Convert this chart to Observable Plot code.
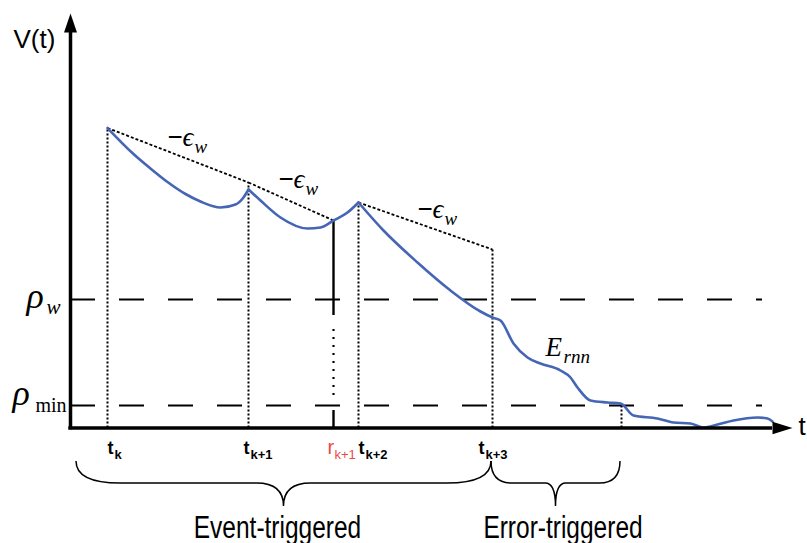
<!DOCTYPE html>
<html>
<head>
<meta charset="utf-8">
<script src="https://cdn.jsdelivr.net/npm/d3@7"></script>
<script src="https://cdn.jsdelivr.net/npm/@observablehq/plot@0.6"></script>
<style>
  html, body { margin: 0; padding: 0; background: #fff; }
  #chart svg { display: block; }
</style>
</head>
<body>
<div id="chart"></div>
<script>
// ---------- data (time units on x, V units on y) ----------
const eventTimes  = [3.7, 17.8, 28.8, 42.2];          // t_k ... t_{k+3}
const eventSubs   = ["k", "k+1", "k+2", "k+3"];
const eventPeaks  = [30.0, 24.55, 22.55, 17.85];      // top of the dotted verticals
const resetTime   = 26.3;                             // r_{k+1}
const resetSub    = "k+1";
const resetLevel  = 20.75;
const errorTime   = 55.1;                             // error-triggered instant

const thresholdNames  = ["w", "min"];
const thresholdValues = [12.85, 2.25];                // rho_w, rho_min

// -epsilon_w budget lines
const budgetX1 = [3.7, 17.8, 28.8];
const budgetY1 = [30.0, 24.55, 22.55];
const budgetX2 = [17.8, 26.3, 42.2];
const budgetY2 = [24.55, 20.75, 17.85];

// V(t) trajectory, three pieces
const seg1T = [3.7, 6.3, 8.0, 9.7, 11.5, 13.0, 15.0, 16.5, 17.3, 17.8];
const seg1V = [30.0, 27.4, 25.95, 24.6, 23.4, 22.65, 22.05, 22.35, 23.05, 23.85];
const seg2T = [17.8, 19.0, 21.0, 23.7, 25.0, 26.3, 27.7, 28.8];
const seg2V = [23.85, 22.75, 21.05, 19.95, 20.05, 20.75, 21.55, 22.55];
const seg3T = [28.8, 31.3, 34.7, 38.0, 41.0, 42.2, 43.0, 44.3, 45.7, 47.0, 49.0, 50.0, 50.7, 52.0, 53.7, 55.0, 56.3, 58.7, 60.3, 62.0, 63.3, 64.7, 66.3, 68.7, 69.7, 70.2];
const seg3V = [22.55, 19.75, 16.55, 13.75, 11.65, 11.05, 10.75, 8.45, 7.05, 6.45, 5.75, 5.05, 4.05, 2.75, 2.55, 2.45, 1.25, 0.95, 0.55, 0.45, 0.05, 0.35, 0.75, 1.05, 0.95, 0.65];

// braces under the axis
const braceFrom   = [0.6, 42.1];
const braceTo     = [42.1, 55.0];
const braceLabels = ["Event-triggered", "Error-triggered"];

// ---------- derived tables ----------
const events = eventTimes.map((t, i) => ({t, top: eventPeaks[i], sub: eventSubs[i]}));
const budgets = budgetX1.map((x1, i) => ({x1, y1: budgetY1[i], x2: budgetX2[i], y2: budgetY2[i]}));
const curve = [
  ...seg1T.map((t, i) => ({t, v: seg1V[i], s: 1})),
  ...seg2T.map((t, i) => ({t, v: seg2V[i], s: 2})),
  ...seg3T.map((t, i) => ({t, v: seg3V[i], s: 3}))
];
const braces = braceFrom.map((a, i) => ({a, b: braceTo[i], label: braceLabels[i]}));
const [rhoW, rhoMin] = thresholdValues;

const SANS = "Liberation Sans, Arial, Helvetica, sans-serif";
const SERIF = "Liberation Serif, 'Times New Roman', DejaVu Serif, serif";
const BLUE = "#4565b5";
const RED = "#ef4848";

// arrowheads (tip at origin)
const arrowUp = {draw(ctx) { ctx.moveTo(0, 0); ctx.lineTo(6.5, 19); ctx.lineTo(-6.5, 19); ctx.closePath(); }};
const arrowRight = {draw(ctx) { ctx.moveTo(0, 0); ctx.lineTo(-20, 6.2); ctx.lineTo(-20, -6.2); ctx.closePath(); }};

const xAxisEnd = 70.2, yAxisEnd = 39.55;
const tickLabelShift = [0, -0.5, 0, -1.4];
const labelBase = -2.55;
const epsX = [9.7, 20.8, 34.7], epsY = [28.25, 24.05, 21.05];

// brace renderer (uses the plot's scales)
function braceMark(index, scales) {
  const {x, y} = scales;
  const g = d3.create("svg:g").attr("fill", "none").attr("stroke", "black").attr("stroke-width", 1.5);
  for (const d of braces) {
    const xa = x(d.a), xb = x(d.b), xm = (xa + xb) / 2;
    const yt = y(-3.35), ym = y(-5.55), yc = y(-7.85);
    const w = xb - xa;
    const r = Math.min(44, w * 0.16), r2 = Math.min(27, w * 0.08);
    const p = d3.path();
    p.moveTo(xa, yt);
    p.quadraticCurveTo(xa, ym, xa + r, ym);
    p.lineTo(xm - r2, ym);
    p.quadraticCurveTo(xm, ym, xm, yc);
    p.quadraticCurveTo(xm, ym, xm + r2, ym);
    p.lineTo(xb - r, ym);
    p.quadraticCurveTo(xb, ym, xb, yt);
    g.append("path").attr("d", p.toString());
  }
  return g.node();
}

const common = {textAnchor: "start", lineAnchor: "bottom"};

const chart = Plot.plot({
  width: 807,
  height: 543,
  margin: 0,
  style: {background: "#fff", overflow: "visible"},
  x: {domain: [-7, 73.7], axis: null},
  y: {domain: [-11.55, 42.75], axis: null},
  marks: [
    // thresholds
    Plot.ruleY(thresholdValues, {x1: 0, x2: 69.2, stroke: "black", strokeWidth: 2.2, strokeDasharray: "25,24"}),
    // event verticals
    Plot.ruleX(events, {x: "t", y1: 0, y2: "top", stroke: "black", strokeWidth: 2, strokeDasharray: "2,2"}),
    Plot.ruleX([errorTime], {y1: 0, y2: rhoMin, stroke: "black", strokeWidth: 2, strokeDasharray: "2,2"}),
    // r_{k+1}
    Plot.ruleX([resetTime], {y1: rhoW - 1.6, y2: resetLevel, stroke: "black", strokeWidth: 2.4}),
    Plot.ruleX([resetTime], {y1: rhoMin + 1.0, y2: rhoW - 2.4, stroke: "black", strokeWidth: 2.2, strokeDasharray: "2,6"}),
    Plot.ruleX([resetTime], {y1: 0, y2: rhoMin - 0.5, stroke: "black", strokeWidth: 2.4}),
    // -eps_w budgets
    Plot.link(budgets, {x1: "x1", y1: "y1", x2: "x2", y2: "y2", stroke: "black", strokeWidth: 1.8, strokeDasharray: "3,2"}),
    // trajectory
    Plot.line(curve, {x: "t", y: "v", z: "s", stroke: BLUE, strokeWidth: 2.6, curve: "monotone-x"}),
    // axes
    Plot.ruleX([0], {y1: -0.17, y2: yAxisEnd, stroke: "black", strokeWidth: 3.5}),
    Plot.ruleY([0], {x1: -0.17, x2: xAxisEnd, stroke: "black", strokeWidth: 3.5}),
    Plot.dot([0], {x: 0, y: 41.45, symbol: arrowUp, fill: "black", stroke: "none"}),
    Plot.dot([0], {x: 72.2, y: 0, symbol: arrowRight, fill: "black", stroke: "none"}),
    // axis names
    Plot.text(["V(t)"], {...common, x: -5.7, y: 38.05, text: d => d, fontFamily: SANS, fontSize: 26}),
    Plot.text(["t"], {...common, x: 72.8, y: -0.65, text: d => d, fontFamily: SANS, fontSize: 26}),
    // threshold labels
    Plot.text(thresholdValues, {...common, x: [-4.4, -5.8], y: [12.05, 2.35], text: () => "\u03C1", fontFamily: SERIF, fontStyle: "italic", fontSize: 36}),
    Plot.text([thresholdNames[0]], {...common, x: -2.4, y: 11.45, text: d => d, fontFamily: SERIF, fontStyle: "italic", fontSize: 21}),
    Plot.text([thresholdNames[1]], {...common, x: -3.5, y: 1.65, text: d => d, fontFamily: SERIF, fontSize: 20}),
    // -eps_w labels
    Plot.text(budgets, {...common, x: epsX, y: epsY, text: () => "\u2212", fontFamily: SERIF, fontWeight: "bold", fontSize: 27}),
    Plot.text(budgets, {...common, x: epsX, y: epsY, dx: 15, text: () => "\u03F5", fontFamily: SERIF, fontStyle: "italic", fontSize: 27}),
    Plot.text(budgets, {...common, x: epsX, y: epsY, dx: 27, dy: 7.5, text: () => "w", fontFamily: SERIF, fontStyle: "italic", fontSize: 19}),
    // E_rnn
    Plot.text(["E"], {...common, x: 47.5, y: 7.25, text: d => d, fontFamily: SERIF, fontStyle: "italic", fontSize: 27}),
    Plot.text(["rnn"], {...common, x: 47.5, y: 7.25, dx: 18, dy: 7, text: d => d, fontFamily: SERIF, fontStyle: "italic", fontSize: 19}),
    // tick labels
    Plot.text(events, {...common, x: (d, i) => d.t + tickLabelShift[i], y: labelBase, text: () => "t", fontFamily: SANS, fontWeight: "bold", fontSize: 18}),
    Plot.text(events, {...common, x: (d, i) => d.t + tickLabelShift[i], y: labelBase, dx: 7, dy: 5, text: "sub", fontFamily: SANS, fontWeight: "bold", fontSize: 13}),
    Plot.text([resetTime], {...common, x: d => d - 0.6, y: labelBase, text: () => "r", fontFamily: SANS, fontSize: 20, fill: RED}),
    Plot.text([resetTime], {...common, x: d => d - 0.6, y: labelBase, dx: 7, dy: 5, text: () => resetSub, fontFamily: SANS, fontSize: 13, fill: RED}),
    // braces + labels
    braceMark,
    Plot.text(braces, {x: d => d.a === braceFrom[0] ? 20.7 : 49.25, y: -10.95, text: "label", textAnchor: "middle", lineAnchor: "bottom", fontFamily: SANS, fontSize: 24.5})
  ]
});

// vertical stretch of the bottom labels (as in the reference)
d3.select(chart).selectAll("text").each(function () {
  if (/triggered/.test(this.textContent)) {
    const t = this.getAttribute("transform") || "";
    this.setAttribute("transform", t + " scale(1,1.3)");
  }
});

document.getElementById("chart").appendChild(chart);
</script>
</body>
</html>
